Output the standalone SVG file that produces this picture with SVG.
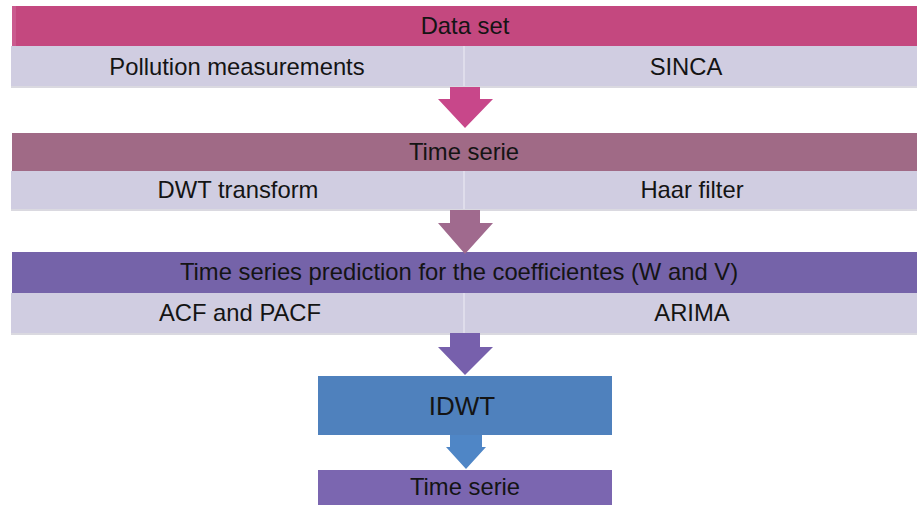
<svg xmlns="http://www.w3.org/2000/svg" width="917" height="505" viewBox="0 0 917 505">
<style>
  text { font-family: "Liberation Sans", Arial, sans-serif; fill: #141414; text-anchor: middle; }
  .t { font-size: 23.8px; }
  .big { font-size: 26px; }
  .sub { fill: #d0cde1; }
  .div { stroke: #e4e2ee; stroke-width: 1.5; }
  .shadow { fill: #c2c0cc; opacity: 0.6; }
</style>
<rect width="917" height="505" fill="#ffffff"/>

<g id="dataset">
  <rect x="12" y="6" width="906" height="40" fill="#c4487f"/>
  <rect x="12" y="6" width="4" height="40" fill="#cf6897" opacity="0.6"/>
  <text class="t" x="465" y="34">Data set</text>
  <rect class="shadow" x="11" y="86" width="907" height="2"/>
  <rect class="sub" x="11" y="46" width="907" height="40"/>
  <line class="div" x1="464" y1="46" x2="464" y2="86"/>
  <text class="t" x="237" y="75">Pollution measurements</text>
  <text class="t" x="686" y="75">SINCA</text>
</g>

<g id="timeserie1">
  <rect x="12" y="133" width="906" height="38" fill="#a06a86"/>
  <text class="t" x="464" y="160">Time serie</text>
  <rect class="shadow" x="11" y="209" width="907" height="2"/>
  <rect class="sub" x="11" y="171" width="907" height="38"/>
  <line class="div" x1="464" y1="171" x2="464" y2="209"/>
  <text class="t" x="238" y="198">DWT transform</text>
  <text class="t" x="692" y="198">Haar filter</text>
</g>

<g id="prediction">
  <rect x="12" y="252" width="906" height="41" fill="#7563a9"/>
  <text class="t" x="459" y="280">Time series prediction for the coefficientes (W and V)</text>
  <rect class="shadow" x="11" y="333" width="907" height="2"/>
  <rect class="sub" x="11" y="293" width="907" height="40"/>
  <line class="div" x1="464" y1="293" x2="464" y2="333"/>
  <text class="t" x="240" y="321">ACF and PACF</text>
  <text class="t" x="692" y="321">ARIMA</text>
</g>

<g id="idwt">
  <rect x="318" y="376" width="294" height="59" fill="#4f81bd"/>
  <text class="big" x="462" y="415">IDWT</text>
</g>

<g id="timeserie2">
  <rect x="318" y="470" width="294" height="40" fill="#7b66b0"/>
  <text class="t" x="465" y="495">Time serie</text>
</g>

<g id="connectors">
  <polygon points="450,87 480,87 480,99 493,99 465,128 438,99 450,99" fill="#c8478a"/>
  <polygon points="450,210 480,210 480,223 493,223 465,254 438,223 450,223" fill="#a06a8e"/>
  <polygon points="450,333 480,333 480,347 493,347 465,375 438,347 450,347" fill="#7760ac"/>
  <polygon points="450,435 482,435 482,447 486,447 466,469 446,447 450,447" fill="#4f86c6"/>
</g>
</svg>
